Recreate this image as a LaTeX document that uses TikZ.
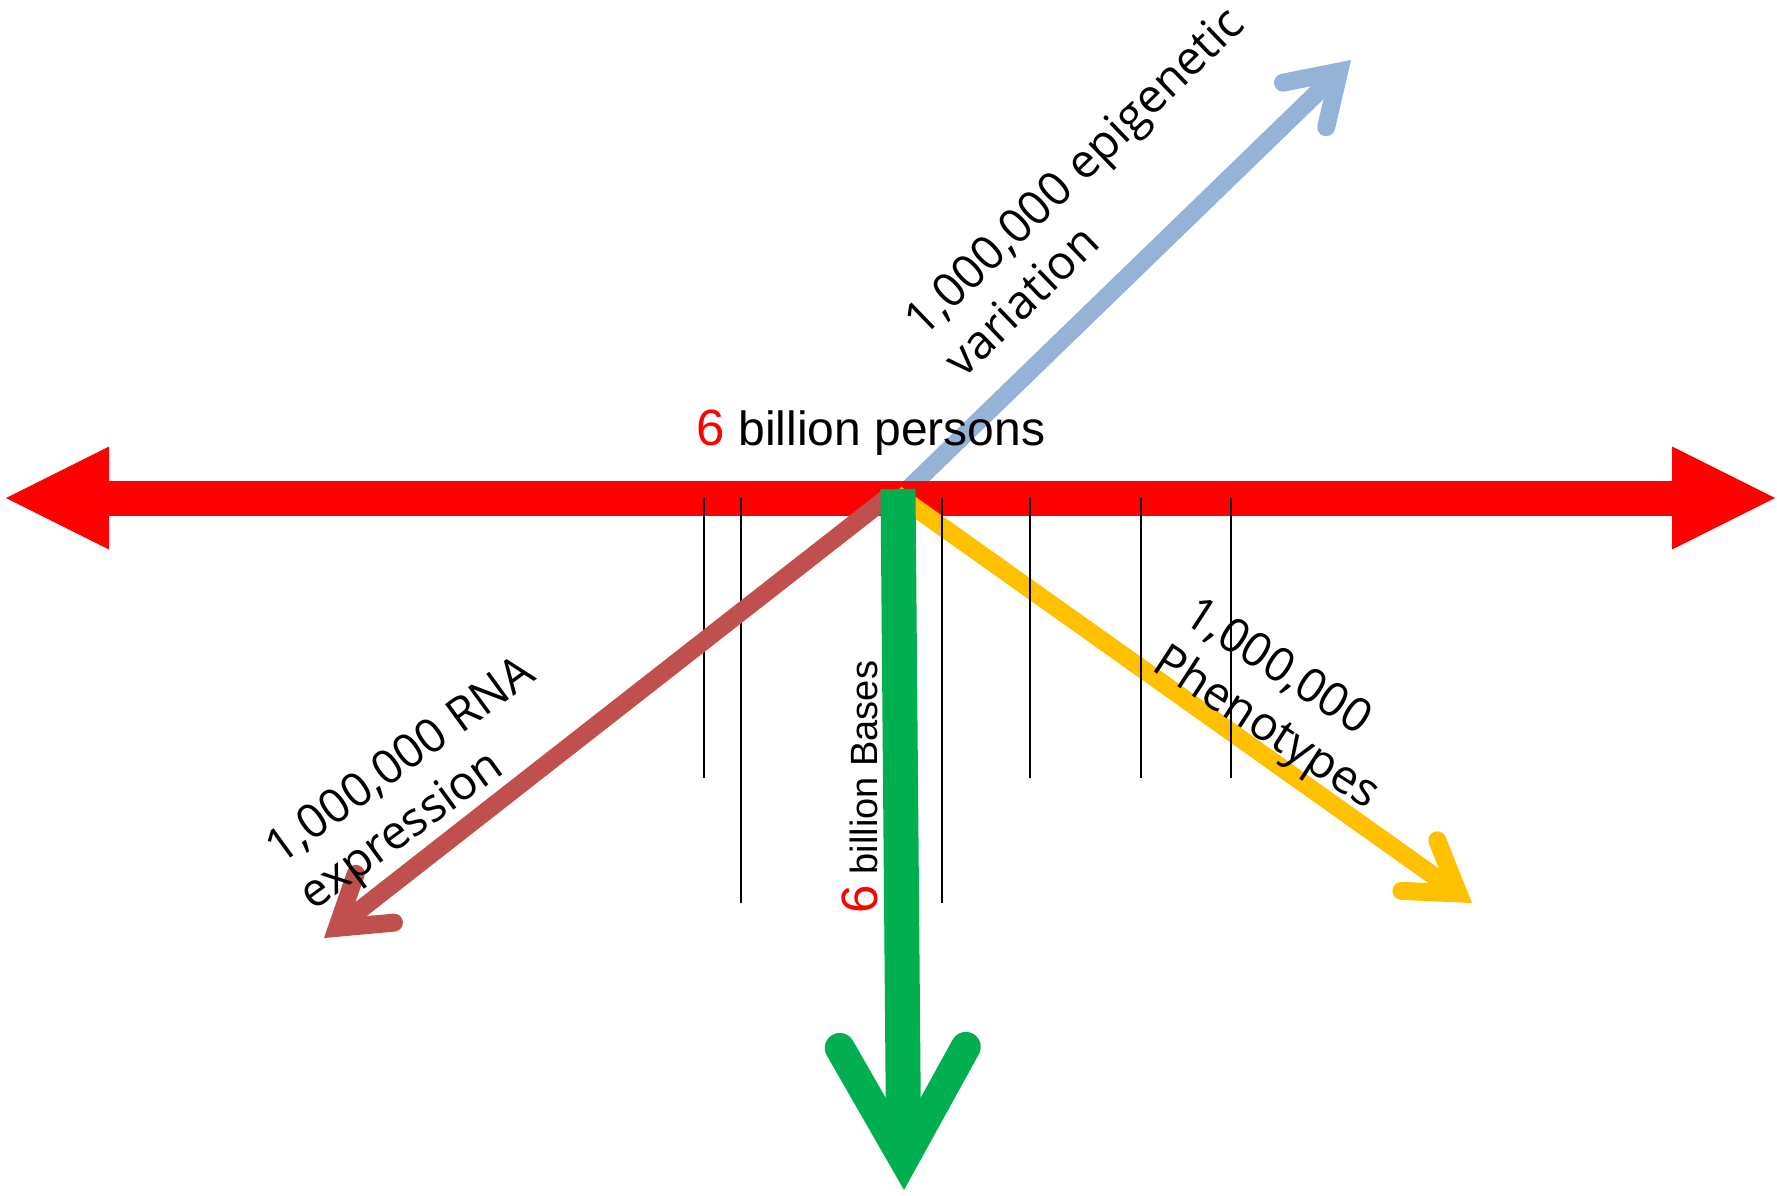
\documentclass[tikz,border=0pt]{standalone}
\usepackage{fontspec}
\setmainfont{Liberation Sans}
\newfontfamily\axisfont{Open Sans}
\usetikzlibrary{arrows.meta}
\definecolor{Red}{HTML}{FF0000}
\definecolor{LBlue}{HTML}{95B3D7}
\definecolor{Brick}{HTML}{C0504D}
\definecolor{Gold}{HTML}{FFC000}
\definecolor{Leaf}{HTML}{00B050}
\newcommand{\Canvas}{
\useasboundingbox (0,0) rectangle (1777,1196);
\coordinate (west-tip) at (6,498);
\coordinate (east-tip) at (1775,498);
\coordinate (epi-start) at (900,497);
\coordinate (epi-tip) at (1351,60);
\coordinate (rna-start) at (888,497);
\coordinate (rna-tip) at (324,938);
\coordinate (pheno-start) at (896,494);
\coordinate (pheno-tip) at (1472,903);
\coordinate (bases-start) at (898,489);
\coordinate (bases-tip) at (904,1190);
}

\begin{document}
\begin{tikzpicture}[x=1pt, y=-1pt,
    axis/.style={line width=18pt},
    barb/.style={-{Straight Barb[length=48pt, width=62pt, line join=miter, line cap=round]}},
    axislabel/.style={font=\axisfont\fontsize{47}{57}\selectfont, align=left, inner sep=0pt}]
\Canvas
\draw[LBlue, axis, barb] (epi-start) -- (epi-tip);
\draw[Red, line width=35pt, {Triangle[length=103pt, width=103pt, line width=0pt]}-{Triangle[length=103pt, width=103pt, line width=0pt]}] (west-tip) -- (east-tip);
\draw[Gold, axis, barb] (pheno-start) -- (pheno-tip);

\draw[black, line width=1.5pt] (704,498) -- (704,778);
\draw[black, line width=1.5pt] (741,498) -- (741,903);
\draw[black, line width=1.5pt] (942,498) -- (942,903);
\draw[black, line width=1.5pt] (1030,498) -- (1030,778);
\draw[black, line width=1.5pt] (1141,498) -- (1141,778);
\draw[black, line width=1.5pt] (1231,498) -- (1231,778);

\draw[Brick, axis, barb] (rna-start) -- (rna-tip);
\draw[Leaf, line width=35pt, -{Straight Barb[length=112pt, width=126pt, line width=30pt, line join=miter, line cap=round]}] (bases-start) -- (bases-tip);

\node[anchor=base, inner sep=0pt, font=\fontsize{48}{58}\selectfont] (persons) at (871,445) {{\color{Red}\fontsize{51}{58}\selectfont 6} billion persons};
\node[anchor=base, inner sep=0pt, rotate=90, font=\fontsize{38}{44}\selectfont] (bases) at (877,787) {{\color{Red}\fontsize{51}{58}\selectfont 6} billion Bases};

\node[axislabel, rotate=44] (epi-label) at (1093,191) {1,000,000 epigenetic\\variation};
\node[axislabel, rotate=36] (rna-label) at (419,786) {1,000,000 RNA\\expression};
\node[axislabel, rotate=-33] (pheno-label) at (1281,706) {1,000,000\\Phenotypes};
\end{tikzpicture}
\end{document}
